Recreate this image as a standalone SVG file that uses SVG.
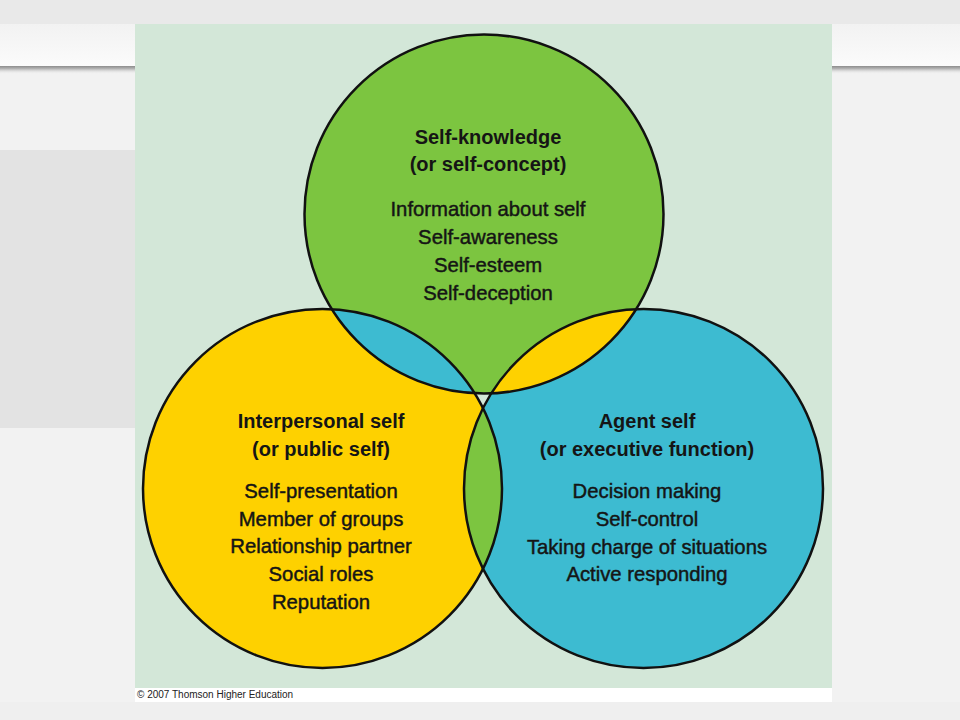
<svg xmlns="http://www.w3.org/2000/svg" width="960" height="720" viewBox="0 0 960 720">
  <defs>
    <linearGradient id="topband" x1="0" y1="0" x2="0" y2="1">
      <stop offset="0" stop-color="#f2f2f2"/>
      <stop offset="1" stop-color="#fbfbfb"/>
    </linearGradient>
    <linearGradient id="shadow" x1="0" y1="0" x2="0" y2="1">
      <stop offset="0" stop-color="#8c8c8c"/>
      <stop offset="0.35" stop-color="#b5b5b5"/>
      <stop offset="1" stop-color="#f2f2f2" stop-opacity="0"/>
    </linearGradient>
    <clipPath id="clipT"><circle cx="484" cy="214" r="179.5"/></clipPath>
    <clipPath id="clipL"><circle cx="322.5" cy="488.5" r="179.5"/></clipPath>
    <clipPath id="clipR"><circle cx="643.5" cy="488.5" r="179.5"/></clipPath>
    <style>
      .outline { fill: none; stroke: #111; stroke-width: 2.5; }
      .head { font-family: "Liberation Sans", Arial, sans-serif; font-size: 20px; font-weight: bold; fill: #151515; text-anchor: middle; }
      .item { font-family: "Liberation Sans", Arial, sans-serif; font-size: 20.3px; fill: #151515; stroke: #151515; stroke-width: 0.45; text-anchor: middle; }
      .copy { font-family: "Liberation Sans", Arial, sans-serif; font-size: 10px; fill: #222; }
    </style>
  </defs>

  <!-- slide background -->
  <rect x="0" y="0" width="960" height="720" fill="#f2f2f2"/>
  <rect x="0" y="0" width="960" height="24" fill="#e9e9e9"/>
  <rect x="0" y="24" width="960" height="42" fill="url(#topband)"/>
  <rect x="0" y="66" width="960" height="8" fill="url(#shadow)"/>
  <rect x="0" y="150" width="135" height="278" fill="#e3e3e3"/>
  <rect x="0" y="702" width="960" height="18" fill="#efefef"/>

  <!-- diagram panel -->
  <rect x="135" y="24" width="697" height="664" fill="#d3e7d8"/>
  <rect x="135" y="688" width="697" height="14" fill="#ffffff"/>
  <text class="copy" x="137" y="698">© 2007 Thomson Higher Education</text>

  <!-- base circles -->
  <g id="node-left">
    <circle cx="322.5" cy="488.5" r="179.5" fill="#fed100"/>
  </g>
  <g id="node-right">
    <circle cx="643.5" cy="488.5" r="179.5" fill="#3dbbd1"/>
  </g>
  <g id="node-top">
    <circle cx="484" cy="214" r="179.5" fill="#7cc540"/>
  </g>

  <!-- overlap regions -->
  <g id="overlaps">
    <circle cx="484" cy="214" r="179.5" fill="#3dbbd1" clip-path="url(#clipL)"/>
    <circle cx="484" cy="214" r="179.5" fill="#fed100" clip-path="url(#clipR)"/>
    <circle cx="322.5" cy="488.5" r="179.5" fill="#7cc540" clip-path="url(#clipR)"/>
    <g clip-path="url(#clipL)">
      <circle cx="484" cy="214" r="179.5" fill="#d3e7d8" clip-path="url(#clipR)"/>
    </g>
  </g>

  <!-- outlines -->
  <g id="outlines">
    <circle class="outline" cx="484" cy="214" r="179.5"/>
    <circle class="outline" cx="322.5" cy="488.5" r="179.5"/>
    <circle class="outline" cx="643.5" cy="488.5" r="179.5"/>
  </g>

  <!-- labels -->
  <g id="label-top">
    <text class="head" x="488" y="144">Self-knowledge</text>
    <text class="head" x="488" y="171">(or self-concept)</text>
    <text class="item" x="488" y="216">Information about self</text>
    <text class="item" x="488" y="244">Self-awareness</text>
    <text class="item" x="488" y="272">Self-esteem</text>
    <text class="item" x="488" y="300">Self-deception</text>
  </g>
  <g id="label-left">
    <text class="head" x="321" y="428">Interpersonal self</text>
    <text class="head" x="321" y="456">(or public self)</text>
    <text class="item" x="321" y="498">Self-presentation</text>
    <text class="item" x="321" y="526">Member of groups</text>
    <text class="item" x="321" y="553">Relationship partner</text>
    <text class="item" x="321" y="581">Social roles</text>
    <text class="item" x="321" y="609">Reputation</text>
  </g>
  <g id="label-right">
    <text class="head" x="647" y="428">Agent self</text>
    <text class="head" x="647" y="456">(or executive function)</text>
    <text class="item" x="647" y="498">Decision making</text>
    <text class="item" x="647" y="526">Self-control</text>
    <text class="item" x="647" y="554">Taking charge of situations</text>
    <text class="item" x="647" y="581">Active responding</text>
  </g>
</svg>
